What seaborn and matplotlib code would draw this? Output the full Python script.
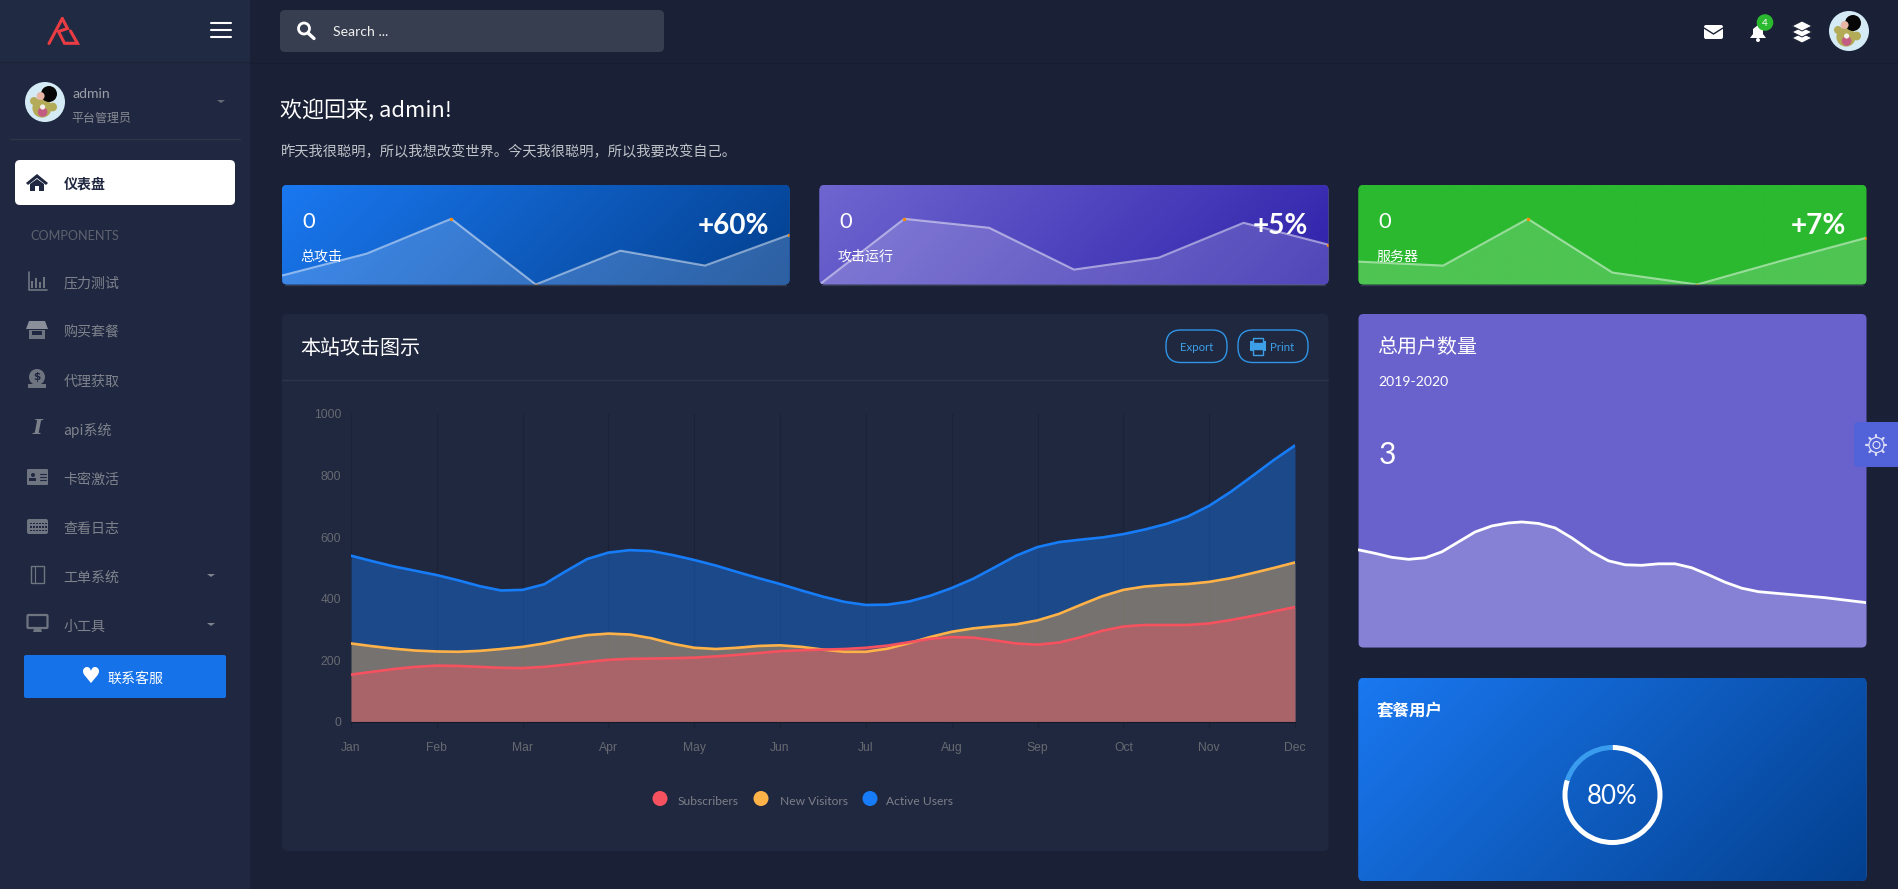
import numpy as np
import pandas as pd
import seaborn as sns
import matplotlib
matplotlib.use("Agg")
import matplotlib.pyplot as plt
from matplotlib.colors import LinearSegmentedColormap
from matplotlib.patches import FancyBboxPatch, Circle, Rectangle, Polygon, Ellipse

W, H = 1899, 889

months = ["Jan", "Feb", "Mar", "Apr", "May", "Jun", "Jul", "Aug", "Sep", "Oct", "Nov", "Dec"]
yticks = [0, 200, 400, 600, 800, 1000]

# values every quarter month
active_users = [540, 522, 505, 491, 477, 460, 441, 427, 429, 447, 489, 529, 550, 558, 555, 542,
                526, 508, 487, 467, 448, 427, 407, 390, 380, 381, 391, 410, 435, 465, 502, 540,
                568, 584, 592, 599, 610, 625, 643, 667, 702, 747, 798, 850, 898]
new_visitors = [255, 246, 238, 232, 229, 228, 231, 237, 244, 255, 270, 282, 287, 284, 272, 254,
                241, 237, 241, 247, 249, 244, 235, 228, 228, 238, 256, 276, 293, 304, 311, 317,
                330, 351, 380, 408, 429, 440, 445, 448, 455, 467, 483, 500, 518]
subscribers = [154, 163, 172, 179, 183, 182, 179, 176, 175, 179, 186, 195, 202, 205, 206, 207,
               209, 213, 218, 224, 230, 233, 235, 237, 241, 248, 259, 270, 276, 274, 265, 255,
               251, 258, 275, 296, 310, 315, 315, 315, 320, 331, 344, 359, 373]
quarter_pos = [i / 4 for i in range(45)]

spark_attack = [9, 31, 66, 0, 34, 19, 50]
spark_running = [0, 66, 57, 15, 27, 62, 40]
spark_servers = [23, 19, 66, 12, 0, 24, 47]
spark_dots = [[2, 3, 6], [0, 1, 6], [2, 4, 6]]

user_pos = [0, 50, 100, 150, 200, 250, 300, 350, 400, 450, 490, 540, 590, 640, 700, 750, 800, 850,
            900, 950, 1000, 1050, 1100, 1150, 1200, 1300, 1400, 1524]
user_vals = [98, 94.5, 90.5, 88.5, 90, 96, 106, 116, 122, 125, 126, 124.5, 120, 110, 96, 87, 83, 82.5,
             84, 84, 80, 73, 65.5, 59.5, 56, 53, 50, 45]

ring_vals = [80, 20]

menu_items = ["压力测试", "购买套餐", "代理获取", "api系统", "卡密激活", "查看日志", "工单系统", "小工具"]
menu_y = [282, 330, 380, 429, 478, 527, 576, 625]

PAGE = "#1a2035"
PANEL = "#202840"
RED = "#f5515f"
ORANGE = "#ffb248"
BLUE = "#167cf8"
ICON = "#6e7480"

sns.set_theme(style="dark")
CJK = ["Noto Sans CJK SC", "DejaVu Sans"]
LATIN = ["Lato", "Noto Sans CJK SC", "DejaVu Sans"]
plt.rcParams["font.family"] = LATIN

fig = plt.figure(figsize=(W / 100, H / 100), dpi=100, facecolor=PAGE)


def px_axes(x0, y0, x1, y1, z=1):
    ax = fig.add_axes([x0 / W, 1 - y1 / H, (x1 - x0) / W, (y1 - y0) / H], zorder=z)
    ax.set_facecolor("none")
    return ax


def blank(ax):
    ax.set_xlabel("")
    ax.set_ylabel("")
    ax.set_xticks([])
    ax.set_yticks([])
    for s in ax.spines.values():
        s.set_visible(False)


bg = px_axes(0, 0, W, H, 0)
fg = px_axes(0, 0, W, H, 5)
for a in (bg, fg):
    a.set_xlim(0, W)
    a.set_ylim(H, 0)
    blank(a)


def rbox(ax, x0, y0, x1, y1, r=5, fc="none", ec="none", lw=0, **kw):
    p = FancyBboxPatch((x0 + r, y0 + r), x1 - x0 - 2 * r, y1 - y0 - 2 * r,
                       boxstyle=f"round,pad={r},rounding_size={r}",
                       fc=fc, ec=ec, lw=lw, **kw)
    ax.add_patch(p)
    return p


def txt(x, y, s, px, color="white", ha="left", weight="normal", family=LATIN, **kw):
    # texts sat a little high and the CJK glyphs a little to the right
    if family is CJK and ha == "left":
        x -= 1.5
    return fg.text(x, y + 1.5, s, fontsize=px * 0.72, color=color, ha=ha, va="center",
                   fontweight=weight, family=family, **kw)


def grad_card(x0, y0, x1, y1, c0, c1):
    p = rbox(bg, x0, y0, x1, y1, fc=c0)
    w, h = x1 - x0, y1 - y0
    xx, yy = np.meshgrid(np.linspace(0, w, 200), np.linspace(0, h, 80))
    t = (xx + yy) / (w + h)
    cm = LinearSegmentedColormap.from_list("g", [c0, c1])
    im = bg.imshow(t, extent=(x0, x1, y1, y0), cmap=cm, aspect="auto", zorder=1)
    im.set_clip_path(p)
    bg.set_xlim(0, W)
    bg.set_ylim(H, 0)
    return p


# shell
bg.add_patch(Rectangle((0, 0), 250, H, fc="#1f2840", ec="none"))
bg.add_patch(Rectangle((0, 0), 250, 61, fc="#202a42", ec="none"))
bg.plot([0, 250], [61.5, 61.5], color="#1c2438", lw=1)
bg.plot([250, W], [62.5, 62.5], color="#171d30", lw=1)


def avatar(cx, cy, r=20):
    def c(dx, dy, rad, col, z=3):
        fg.add_patch(Ellipse((cx + dx * r, cy + dy * r), 2 * rad * r, 2 * rad * r, fc=col, ec="none", zorder=z))
    c(0, 0, 1, "#d4ebf6", 2)
    c(-0.15, 0.3, 0.48, "#b3ab58")
    c(0.38, 0.25, 0.22, "#b3ab58")
    c(-0.55, -0.05, 0.2, "#b3ab58")
    c(-0.12, 0.5, 0.24, "#c25c82", 4)
    c(-0.12, 0.25, 0.13, "#f4f0ea", 4)
    c(0.2, -0.4, 0.4, "#070707", 4)
    c(-0.22, -0.3, 0.2, "#e9b6a5", 5)


# logo
logo = [[(62.3, 18.5), (49, 43.5)],
        [(62.3, 18.5), (67.5, 28.5), (58.5, 31.5), (64.5, 43.3), (77.5, 43.3), (70.5, 31)]]
for pts in logo:
    bg.plot(*zip(*pts), color="#ea3c43", lw=2.2, solid_joinstyle="miter", zorder=3)
for y in (23, 30, 37):
    bg.plot([211, 231], [y, y], color="white", lw=1.5, zorder=3)

avatar(45, 102)
txt(73, 93, "admin", 14, "#9a9ea8")
txt(73, 117, "平台管理员", 12, "#888c95", family=CJK)
bg.add_patch(Polygon([(217, 100), (225, 100), (221, 103)], fc="#666b77", ec="none"))
bg.plot([10, 240], [139, 139], color="#2d3549", lw=1)

rbox(bg, 15, 160, 235, 205, fc="white", zorder=3)
fg.add_patch(Polygon([(26, 183), (37, 174), (48, 183), (46, 185), (37, 178), (28, 185)], fc="#1f2840", ec="none"))
fg.add_patch(Polygon([(30, 184), (37, 179), (44, 184), (44, 191), (39, 191), (39, 186), (35, 186), (35, 191), (30, 191)], fc="#1f2840", ec="none"))
txt(65, 183, "仪表盘", 14, "#1f2840", weight="bold", family=CJK)
txt(30, 235, "COMPONENTS", 12.6, "#5e626f")
for name, y in zip(menu_items, menu_y):
    txt(65, y, name, 14, "#7f838d", family=CJK)
for y in (575, 624):
    bg.add_patch(Polygon([(207, y - 1), (215, y - 1), (211, y + 2)], fc="#7f838d", ec="none"))

# sidebar icons
i = ICON
bg.plot([29, 29, 47], [272, 290, 290], color=i, lw=1.2)
for dx, h in zip((32.5, 36.5, 40.5, 44.5), (7, 10, 6, 11)):
    bg.add_patch(Rectangle((dx - 1, 288 - h), 2, h, fc=i, ec="none"))
bg.add_patch(Polygon([(29, 321), (45, 321), (48, 329), (26, 329)], fc="#8a8f99", ec="none"))
bg.add_patch(Rectangle((29, 330), 16, 9, fc=i, ec="none"))
bg.add_patch(Rectangle((32, 331), 10, 4, fc="#1f2840", ec="none"))
bg.add_patch(Circle((37, 377), 8, fc=i, ec="none"))
fg.text(37, 377, "$", fontsize=7.5, color="#1f2840", ha="center", va="center", fontweight="bold", family="DejaVu Sans")
bg.add_patch(Rectangle((28, 384), 18, 4, fc=i, ec="none"))
fg.text(37, 428, "I", fontsize=15, color="#7c818b", ha="center", va="center", fontweight="bold", fontstyle="italic", family="DejaVu Serif")
rbox(bg, 27, 469, 48, 485, r=1, fc=i)
bg.add_patch(Circle((33, 475), 2, fc="#1f2840", ec="none"))
bg.add_patch(Rectangle((29.5, 478), 7, 3, fc="#1f2840", ec="none"))
for y in (474, 477, 480):
    bg.plot([40, 46], [y, y], color="#1f2840", lw=0.8)
rbox(bg, 27, 519, 48, 534, r=2, fc=i)
for y in (522.5, 526, 529.5):
    for x in range(30, 47, 3):
        bg.add_patch(Rectangle((x, y), 1.6, 1.6, fc="#1f2840", ec="none"))
bg.add_patch(Rectangle((31, 566), 13, 17, fc="none", ec=i, lw=1))
bg.plot([35, 35], [566, 583], color=i, lw=0.8)
rbox(bg, 27.5, 615, 47.5, 628, r=1, fc="none", ec=i, lw=1.6)
bg.add_patch(Polygon([(34, 629), (41, 629), (42, 632), (33, 632)], fc=i, ec="none"))

# button
rbox(bg, 24, 655, 226, 698, r=2, fc="#1572e8", zorder=3)
fg.text(91, 677, "♥", fontsize=16, color="white", ha="center", va="center", family="DejaVu Sans")
txt(109, 677, "联系客服", 14, "white", family=CJK)

# top bar
rbox(bg, 280, 10, 664, 52, fc="#373e4f")
fg.add_patch(Circle((304, 28.5), 5.5, fc="none", ec="white", lw=2))
fg.plot([308, 314], [33, 38.5], color="white", lw=2.4)
txt(333, 31, "Search ...", 14, "#f0f0f0")
rbox(bg, 1704, 25, 1723, 39, r=2, fc="white", zorder=3)
bg.plot([1704, 1713.5, 1723], [28, 34, 28], color=PAGE, lw=1, zorder=4)
bg.add_patch(Polygon([(1750, 38), (1753, 34), (1753, 29), (1758, 25), (1763, 29), (1763, 34), (1766, 38)], fc="white", ec="none", zorder=3))
bg.add_patch(Circle((1758, 40), 2, fc="white", ec="none", zorder=3))
fg.add_patch(Circle((1765, 22.5), 8.3, fc="#2bb930", ec="none"))
txt(1765, 22, "4", 10, "white", ha="center")
for dy in (-6, 0, 6):
    bg.add_patch(Polygon([(1792, 32 + dy), (1802, 27 + dy), (1812, 32 + dy), (1802, 37 + dy)], fc="white", ec=PAGE, lw=0.7, zorder=3 - dy / 10))
avatar(1849, 31)

txt(282, 109, "欢迎回来, admin!", 22, "white", family=CJK)
txt(282, 150, "昨天我很聪明，所以我想改变世界。今天我很聪明，所以我要改变自己。", 14.3, "#c0c3c9", family=CJK)

# small cards with sparklines
cards = [(282, 789.5, "#1a78f0", "#03408f", spark_attack, "总攻击", "+60%"),
         (819.5, 1328.5, "#6f66d0", "#2f22ab", spark_running, "攻击运行", "+5%"),
         (1358.5, 1866.5, "#2bb930", "#2bb930", spark_servers, "服务器", "+7%")]
for (x0, x1, c0, c1, vals, label, pct), dots in zip(cards, spark_dots):
    p = grad_card(x0, 185, x1, 284.5, c0, c1)
    bg.plot([x0 + 3, x1 - 3], [285, 285], color="#343b50", lw=1, zorder=0)
    sp = px_axes(x0, 185, x1, 284.5)
    steps = list(range(len(vals)))
    sp.fill_between(steps, 0, vals, color="white", alpha=0.17, lw=0, clip_path=p)
    sns.lineplot(x=steps, y=vals, color="white", alpha=0.5, linewidth=1.5, ax=sp, legend=False, errorbar=None)
    sp.lines[-1].set_clip_path(p)
    sp.scatter(dots, [vals[d] for d in dots], s=6, color="#ff8a00", linewidths=0, zorder=4, clip_path=p)
    sp.set_xlim(0, 6)
    sp.set_ylim(0, 100)
    blank(sp)
    txt(x0 + 20, 220, "0", 22, "white")
    txt(x1 - 20, 224, pct, 28, "white", ha="right", weight="bold")
    txt(x0 + 20, 255, label, 14, "white", family=CJK)

# main chart card
rbox(bg, 282, 314, 1328.5, 851, fc=PANEL)
bg.plot([282, 1328.5], [379.5, 379.5], color="#2c3448", lw=1, zorder=3)
txt(302, 347, "本站攻击图示", 20, "white", family=CJK)
rbox(bg, 1166, 330, 1227, 362.5, r=15, ec="#2f95e6", lw=1, zorder=3)
rbox(bg, 1238, 330, 1308, 362.5, r=15, ec="#2f95e6", lw=1, zorder=3)
txt(1197, 346, "Export", 11.5, "#3d9fe8", ha="center")
txt(1270.5, 346, "Print", 11.5, "#3d9fe8")
bg.add_patch(Rectangle((1250, 341), 16, 10, fc="#3d9fe8", ec="none", zorder=4))
bg.add_patch(Rectangle((1253, 338), 10, 5, fc=PANEL, ec="#3d9fe8", lw=1, zorder=5))
bg.add_patch(Rectangle((1253, 349), 10, 6, fc=PANEL, ec="#3d9fe8", lw=1, zorder=5))

ax = px_axes(351, 414, 1295, 722, 2)
df = pd.DataFrame({"pos": quarter_pos, "Active Users": active_users,
                   "New Visitors": new_visitors, "Subscribers": subscribers})
order = [("Active Users", BLUE), ("New Visitors", ORANGE), ("Subscribers", RED)]
for name, col in order:
    ax.fill_between(df["pos"], 0, df[name], color=col, alpha=0.4, lw=0, zorder=2)
for name, col in order:
    sns.lineplot(data=df, x="pos", y=name, color=col, linewidth=1.9, ax=ax, legend=False, errorbar=None, zorder=3)
ax.set_xlim(0, 11)
ax.set_ylim(0, 1000)
ax.set_xlabel("")
ax.set_ylabel("")
ax.set_xticks(range(12), months)
ax.set_yticks(yticks)
ax.grid(axis="x", color="#1b2235", lw=0.8, zorder=1)
ax.grid(axis="y", visible=False)
ax.tick_params(axis="x", length=4.3, width=0.8, color="#1b2235", pad=10.2, labelsize=8.7, labelcolor="#666a70", bottom=True)
ax.tick_params(axis="y", length=0, pad=7, labelsize=8.7, labelcolor="#666a70")
for lab in ax.get_xticklabels() + ax.get_yticklabels():
    lab.set_family(["Liberation Sans"])
for name, s in ax.spines.items():
    s.set_visible(name == "bottom")
ax.spines["bottom"].set_color("#12182a")
ax.spines["bottom"].set_linewidth(0.8)

for x, tx, label, col in [(660, 677.5, "Subscribers", RED), (761, 780, "New Visitors", ORANGE), (870, 886.5, "Active Users", BLUE)]:
    fg.add_patch(Circle((x, 798.5), 7.5, fc=col, ec="none"))
    txt(tx, 800, label, 12, "#7e8088")

# purple card
p_card = rbox(bg, 1358.5, 314, 1866.5, 647.5, fc="#6a62cc")
up = px_axes(1358.5, 510, 1866.5, 647.5)
up.fill_between(user_pos, 0, user_vals, color="white", alpha=0.2, lw=0, clip_path=p_card)
sns.lineplot(x=user_pos, y=user_vals, color="white", linewidth=2, ax=up, legend=False, errorbar=None)
up.set_xlim(0, 1524)
up.set_ylim(0, 138)
blank(up)
txt(1378.5, 346, "总用户数量", 20, "white", family=CJK)
txt(1378.5, 380.5, "2019-2020", 14, "white")
txt(1379, 454, "3", 30, "white")

# settings tab
rbox(fg, 1854, 422, 1905, 467, r=4, fc="#5262d8")
for k in range(8):
    a = k * np.pi / 4
    fg.plot([1876.5 + 8 * np.cos(a), 1876.5 + 10 * np.cos(a)], [445 + 8 * np.sin(a), 445 + 10 * np.sin(a)], color="#d8dcf5", lw=1.6)
fg.add_patch(Circle((1876.5, 445), 7.5, fc="#5262d8", ec="#e8eaf8", lw=0.8))
fg.add_patch(Circle((1876.5, 445), 3.5, fc="none", ec="#e8eaf8", lw=0.8))

# blue card with progress ring
grad_card(1358.5, 678, 1866.5, 881, "#1a78f0", "#03408f")
txt(1378.5, 709.5, "套餐用户", 16.5, "white", weight="bold", family=CJK)
ring = px_axes(1562.5, 745, 1662.5, 845, 3)
ring.pie(ring_vals, colors=["white", "#3a9cee"], startangle=90, counterclock=False, radius=1,
         wedgeprops={"width": 0.1, "linewidth": 0})
ring.set_xlim(-1, 1)
ring.set_ylim(-1, 1)
txt(1612.5, 795, "80%", 26, "white", ha="center")

fig.savefig("out.png", dpi=100, facecolor=PAGE)
